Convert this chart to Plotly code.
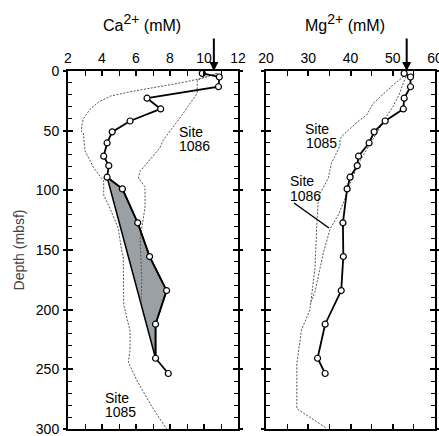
import plotly.graph_objects as go

# Pore-water profiles: depth (mbsf)
depth = [2.0, 5.0, 13.2, 22.8, 31.8, 41.9, 51.0, 60.3, 71.4, 79.3, 89.0, 98.8,
         127.2, 155.5, 184.0, 212.2, 240.7, 253.5]
ca = [9.9, 10.9, 10.85, 6.65, 7.45, 5.65, 4.6, 4.3, 4.1, 4.4, 4.3, 5.2,
      6.1, 6.8, 7.8, 7.15, 7.15, 7.9]
mg = [52.7, 54.2, 54.2, 52.7, 52.5, 48.2, 45.6, 44.4, 41.9, 41.6, 39.9, 39.2,
      38.2, 38.3, 37.8, 34.0, 32.2, 34.0]

# shaded interval (from ~89 to ~241 mbsf)
shade_start, shade_end = 10, 16

# comparison sites, Ca
ca1085_depth = [2, 7, 10, 13, 17, 21, 26, 32, 40, 47, 51, 52, 67, 78, 81, 92,
                104, 115, 132, 151, 155, 196, 218, 234, 244, 259, 281, 300]
ca1085 = [10.8, 9.6, 8.6, 7.4, 5.8, 4.5, 3.8, 3.3, 2.9, 2.8, 2.8, 2.9, 3.0, 3.4,
          3.5, 4.1, 4.1, 4.47, 4.96, 5.16, 5.25, 5.28, 5.65, 5.65, 5.55, 6.04,
          6.92, 7.8]
ca1086_depth = [2, 7.5, 18.7, 37, 58, 64.5, 84, 89.7, 97, 114, 123.5, 140, 174, 195]
ca1086 = [10.75, 9.6, 9.6, 8.7, 7.6, 7.4, 6.24, 6.14, 6.53, 6.53, 6.43, 6.24, 6.34, 6.3]

# comparison sites, Mg
mg1085_depth = [2, 4.8, 11.7, 27, 37, 42, 54.8, 57.6, 63, 77, 89.7, 102.5, 106.7,
                130.5, 165, 188, 200, 217, 242, 245, 283, 299.5]
mg1085 = [53.0, 52.5, 50.1, 45.4, 43.8, 41.85, 37.9, 37.5, 37.5, 35.5, 34.75,
          32.8, 32.4, 32.0, 31.6, 30.8, 30.4, 28.4, 27.3, 27.3, 27.3, 34.4]
mg1086_depth = [2, 10, 20, 30, 40, 50, 60, 75, 90, 100, 107, 120, 132, 152, 185, 194]
mg1086 = [53.5, 52.5, 51.5, 50.0, 48.2, 46.5, 44.8, 42.3, 40.4, 39.2, 38.7, 37.2,
          35.2, 33.6, 31.6, 30.6]

W, H = 439, 436
FONT = "Liberation Sans, Arial, sans-serif"


def px_x(p):
    return p / W


def px_y(p):
    return (H - p) / H


fig = go.Figure()

line_style = dict(color="#555555", width=1, dash="2px,1.5px")

# shaded polygon (closed back to the first point by a straight edge)
sd = depth[shade_start:shade_end + 1]
sc = ca[shade_start:shade_end + 1]
fig.add_trace(go.Scatter(x=sc + [sc[0]], y=sd + [sd[0]], mode="lines", fill="toself",
                         fillcolor="#9aa0a4", line=dict(color="black", width=1.5),
                         xaxis="x", yaxis="y", hoverinfo="skip"))

fig.add_trace(go.Scatter(x=ca1085, y=ca1085_depth, mode="lines", line=line_style,
                         xaxis="x", yaxis="y"))
fig.add_trace(go.Scatter(x=ca1086, y=ca1086_depth, mode="lines", line=line_style,
                         xaxis="x", yaxis="y"))
fig.add_trace(go.Scatter(x=mg1085, y=mg1085_depth, mode="lines", line=line_style,
                         xaxis="x2", yaxis="y2"))
fig.add_trace(go.Scatter(x=mg1086, y=mg1086_depth, mode="lines", line=line_style,
                         xaxis="x2", yaxis="y2"))

marker = dict(symbol="circle", size=6, color="white", line=dict(color="black", width=1.2))
fig.add_trace(go.Scatter(x=ca, y=depth, mode="lines+markers",
                         line=dict(color="black", width=1.8), marker=marker,
                         xaxis="x", yaxis="y"))
fig.add_trace(go.Scatter(x=mg, y=depth, mode="lines+markers",
                         line=dict(color="black", width=1.8), marker=marker,
                         xaxis="x2", yaxis="y2"))

# placeholders so the overlay tick axes get drawn
fig.add_trace(go.Scatter(x=[2], y=[0], mode="markers", marker=dict(opacity=0),
                         xaxis="x", yaxis="y3", hoverinfo="skip"))
fig.add_trace(go.Scatter(x=[20], y=[0], mode="markers", marker=dict(opacity=0),
                         xaxis="x2", yaxis="y4", hoverinfo="skip"))

tickfont = dict(family=FONT, size=14, color="black")
ydom = [px_y(429), px_y(71)]
yrange = [300.01, -0.01]

common_x = dict(side="top", showline=True, linewidth=2, linecolor="black", mirror="allticks",
                ticks="inside", ticklen=5, tickwidth=1.5, tickcolor="black",
                showgrid=False, zeroline=False, tickfont=tickfont, automargin=False,
                ticklabeloverflow="allow")
common_y = dict(showline=True, linewidth=2, linecolor="black", mirror="allticks",
                ticks="inside", ticklen=5, tickwidth=1.5, tickcolor="black",
                showgrid=False, zeroline=False, tickfont=tickfont, automargin=False,
                ticklabeloverflow="allow",
                range=yrange, dtick=50, tick0=0,
                minor=dict(dtick=10, ticks="inside", ticklen=4, tickwidth=1.2,
                           tickcolor="black"))
outer_y = dict(showline=False, ticks="outside", ticklen=4, tickwidth=1.5, tickcolor="black",
               mirror="ticks", showgrid=False, zeroline=False, showticklabels=False,
               range=yrange, dtick=50, tick0=0, automargin=False)

fig.update_layout(
    width=W, height=H, template="none", showlegend=False,
    margin=dict(l=0, r=0, t=0, b=0),
    paper_bgcolor="white", plot_bgcolor="white",
    xaxis=dict(common_x, domain=[px_x(68), px_x(238)], range=[2, 12], dtick=2, tick0=2,
               anchor="y",
               minor=dict(dtick=1, ticks="inside", ticklen=5, tickwidth=1.2, tickcolor="black")),
    xaxis2=dict(common_x, domain=[px_x(266), px_x(435)], range=[20, 60], dtick=10, tick0=20,
                anchor="y2",
                minor=dict(dtick=5, ticks="inside", ticklen=5, tickwidth=1.2, tickcolor="black")),
    yaxis=dict(common_y, domain=ydom, anchor="x", ticklabelstandoff=4,
               title=dict(text="Depth (mbsf)", font=dict(family=FONT, size=14), standoff=8)),
    yaxis2=dict(common_y, domain=ydom, anchor="x2", showticklabels=False),
    yaxis3=dict(outer_y, overlaying="y", anchor="x", side="left"),
    yaxis4=dict(outer_y, overlaying="y2", anchor="x2", side="left"),
)

title_font = dict(family=FONT, size=16, color="black")
sup = "<sup><span style='font-size:14px'>2+</span></sup>"
for txt, cx in [("Ca" + sup + " (mM)", 142), ("Mg" + sup + " (mM)", 345)]:
    fig.add_annotation(text=txt, xref="paper", yref="paper", x=px_x(cx), y=px_y(23),
                       xanchor="center", yanchor="middle", showarrow=False, font=title_font)

lab_font = dict(family=FONT, size=14, color="black")
site_labels = [
    ("Site", 177, 132), ("1086", 177, 146),
    ("Site", 103, 398), ("1085", 103, 412),
    ("Site", 303, 129), ("1085", 304, 143),
    ("Site", 288, 181), ("1086", 288, 196),
]
for txt, lx, ly in site_labels:
    fig.add_annotation(text=txt, xref="paper", yref="paper", x=px_x(lx), y=px_y(ly),
                       xanchor="left", yanchor="middle", showarrow=False, font=lab_font)

# leader line to the Site 1086 Mg profile
fig.add_shape(type="line", xref="paper", yref="paper", x0=px_x(294), y0=px_y(203),
              x1=px_x(329), y1=px_y(228), line=dict(color="black", width=1.5))

# arrows marking bottom-water values
fig.add_annotation(x=10.58, y=px_y(71), xref="x", yref="paper", ax=0, ay=-34,
                   showarrow=True, arrowhead=2, arrowsize=0.9, arrowwidth=2,
                   arrowcolor="black", text="")
fig.add_annotation(x=53.3, y=px_y(71), xref="x2", yref="paper", ax=0, ay=-34,
                   showarrow=True, arrowhead=2, arrowsize=0.9, arrowwidth=2,
                   arrowcolor="black", text="")

fig.write_html("out.html")
